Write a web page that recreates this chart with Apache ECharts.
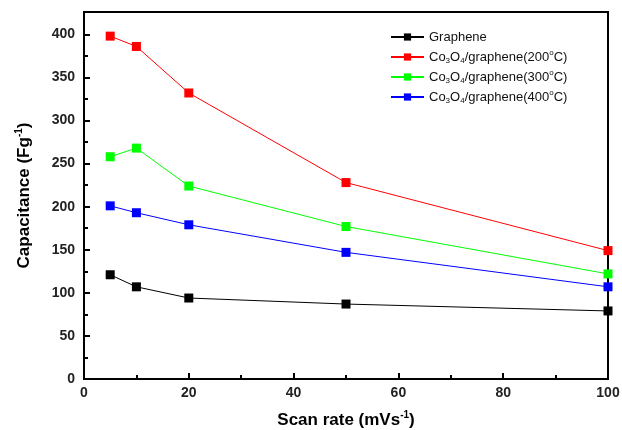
<!DOCTYPE html>
<html><head><meta charset="utf-8">
<script src="https://cdn.jsdelivr.net/npm/echarts@6/dist/echarts.min.js"></script>
<style>html,body{margin:0;padding:0;background:#fff}#c{width:622px;height:430px}</style>
</head><body><div id="c"></div>
<script>
const scanRates = [5, 10, 20, 50, 100];
const graphene = [121, 107, 94, 87, 79];
const co200 = [398, 386, 332, 228, 149];
const co300 = [258, 268, 224, 177, 122];
const co400 = [201, 193, 179, 147, 107];
const seriesNames = ['Graphene', 'Co3O4/graphene(200C)', 'Co3O4/graphene(300C)', 'Co3O4/graphene(400C)'];
const legendLabels = {
  'Graphene': 'Graphene',
  'Co3O4/graphene(200C)': 'Co{s|3}O{s|4}/graphene(200{u|o}C)',
  'Co3O4/graphene(300C)': 'Co{s|3}O{s|4}/graphene(300{u|o}C)',
  'Co3O4/graphene(400C)': 'Co{s|3}O{s|4}/graphene(400{u|o}C)'
};
const yMajor = [0, 50, 100, 150, 200, 250, 300, 350, 400];
const yMinor = [25, 75, 125, 175, 225, 275, 325, 375];
const colors = ['#000000', '#ff0000', '#00ff00', '#0000ff'];
const datasets = [graphene, co200, co300, co400];

const FONT = '"Liberation Sans", Arial, sans-serif';
const chart = echarts.init(document.getElementById('c'), null, {renderer: 'canvas'});
const yMax = 426;
chart.setOption({
  animation: false,
  grid: {left: 84, right: 14, top: 12, bottom: 51, show: true, borderColor: '#000', borderWidth: 2,
    backgroundColor: 'transparent', outerBoundsMode: 'none', containLabel: false},
  legend: {
    left: 385, top: 24, orient: 'vertical', itemWidth: 33, itemHeight: 9, itemGap: 4,
    data: seriesNames,
    formatter: n => legendLabels[n],
    textStyle: {fontFamily: FONT, fontSize: 13, color: '#111', lineHeight: 16,
      rich: {
        s: {fontSize: 8, fontFamily: FONT, color: '#111', verticalAlign: 'bottom', lineHeight: 10, padding: [6, 0, 0, 0]},
        u: {fontSize: 8, fontFamily: FONT, color: '#111', verticalAlign: 'top', lineHeight: 10, padding: [0, 0, 6, 0]}
      }}
  },
  xAxis: {
    type: 'value', min: 0, max: 100, interval: 20,
    name: 'Scan rate (mVs{u|-1})', nameLocation: 'middle', nameGap: 31,
    nameTextStyle: {fontFamily: FONT, fontSize: 17, fontWeight: 'bold', color: '#000', lineHeight: 20,
      rich: {u: {fontSize: 10, fontWeight: 'bold', fontFamily: FONT, color: '#000', verticalAlign: 'top', lineHeight: 10, padding: [0, 0, 9, 0]}}},
    axisLine: {show: true, lineStyle: {color: '#000', width: 2}},
    axisTick: {show: true, inside: true, length: 6, lineStyle: {color: '#000', width: 2}},
    minorTick: {show: true, splitNumber: 2, length: 4, lineStyle: {color: '#000', width: 2}},
    axisLabel: {fontFamily: FONT, fontSize: 14, fontWeight: 'bold', color: '#222', margin: 7},
    splitLine: {show: false}
  },
  yAxis: [{
    type: 'value', min: 0, max: yMax,
    name: 'Capacitance (Fg{u|-1})', nameLocation: 'middle', nameGap: 50,
    nameTextStyle: {fontFamily: FONT, fontSize: 17, fontWeight: 'bold', color: '#000', lineHeight: 20,
      rich: {u: {fontSize: 10, fontWeight: 'bold', fontFamily: FONT, color: '#000', verticalAlign: 'top', lineHeight: 10, padding: [0, 0, 9, 0]}}},
    axisLine: {show: true, lineStyle: {color: '#000', width: 2}},
    axisTick: {show: true, inside: true, length: 6, customValues: yMajor, lineStyle: {color: '#000', width: 2}},
    axisLabel: {fontFamily: FONT, fontSize: 14, fontWeight: 'bold', color: '#222', margin: 9, customValues: yMajor},
    splitLine: {show: false}
  }, {
    type: 'value', min: 0, max: yMax, position: 'left',
    axisLine: {show: false},
    axisTick: {show: true, inside: true, length: 4, customValues: yMinor, lineStyle: {color: '#000', width: 2}},
    axisLabel: {show: false},
    splitLine: {show: false}
  }],
  series: seriesNames.map((n, i) => ({
    name: n, type: 'line', yAxisIndex: 0,
    data: scanRates.map((x, j) => [x, datasets[i][j]]),
    symbol: 'rect', symbolSize: 9, showAllSymbol: true,
    itemStyle: {color: colors[i]},
    lineStyle: {color: colors[i], width: 1},
    clip: true
  }))
});
</script></body></html>
